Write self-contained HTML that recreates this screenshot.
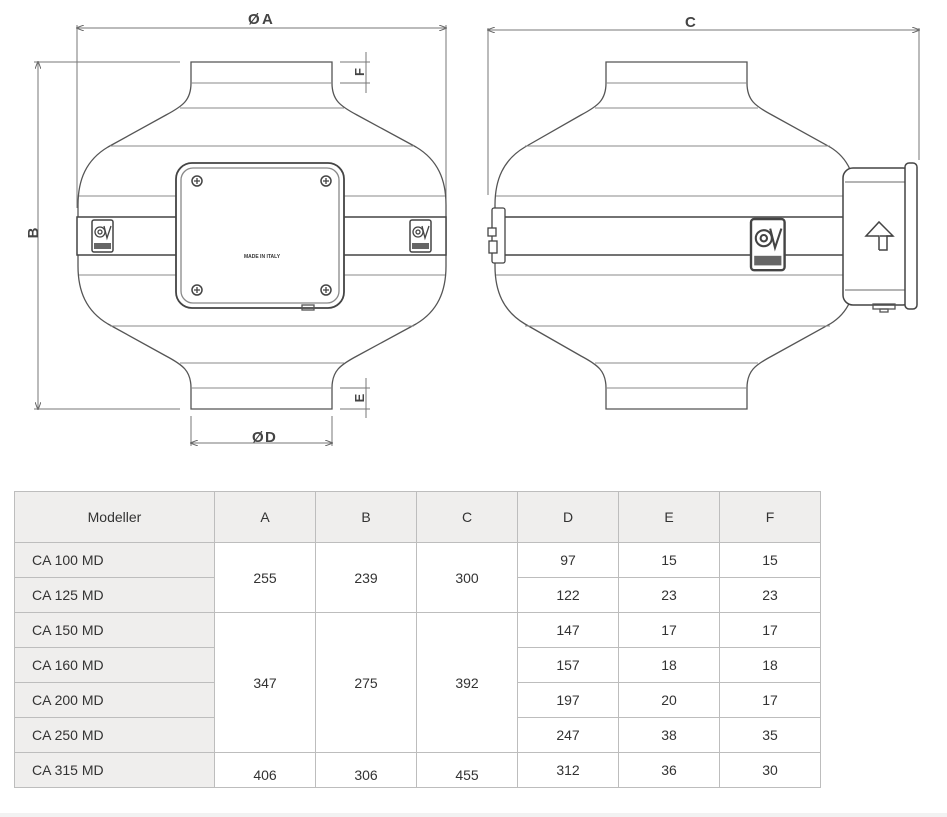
<!DOCTYPE html>
<html><head><meta charset="utf-8"><style>
html,body{margin:0;padding:0;background:#fff;width:947px;height:817px;overflow:hidden;font-family:"Liberation Sans",sans-serif}
svg{position:absolute;left:0;top:0}
table{position:absolute;left:14px;top:491px;border-collapse:collapse;font-family:"Liberation Sans Narrow","Liberation Sans",sans-serif;font-size:14px;color:#333}
td{border:1px solid #bdbdbd;text-align:center;padding:0;height:34px;width:100px}
td.m{background:#efeeed;text-align:left;padding-left:17px;width:182px}
tr.h td{background:#efeeed;height:50px}
tr.h td.m{text-align:center;padding-left:0}
.band{position:absolute;left:0;top:813px;width:947px;height:4px;background:#f2f2f2}
</style></head><body>
<svg width="947" height="490" viewBox="0 0 947 490" fill="none" stroke="#555" stroke-width="1.3">
<defs>
<marker id="ar" markerWidth="8" markerHeight="6" refX="7" refY="3" orient="auto-start-reverse"><path d="M0,0 L8,3 L0,6" fill="none" stroke="#666" stroke-width="1"/></marker>
<g id="logo"><rect x="0" y="0" width="21" height="32" rx="2" fill="#fff" stroke="#444" stroke-width="1.5"/><circle cx="8" cy="12" r="5" stroke="#444"/><circle cx="8" cy="12" r="2" stroke="#444"/><path d="M12,6 L15,18 L19,6" stroke="#444"/><rect x="2" y="23" width="17" height="6" fill="#666" stroke="none"/></g>
<g id="screw"><circle r="5" stroke="#444" stroke-width="1.5"/><path d="M-3,0H3M0,-3V3" stroke="#444"/></g>
</defs>
<g stroke="#777" stroke-width="1">
<line x1="77" y1="28" x2="446" y2="28" marker-start="url(#ar)" marker-end="url(#ar)"/>
<line x1="77" y1="25" x2="77" y2="208"/><line x1="446" y1="25" x2="446" y2="205"/>
<line x1="38" y1="62" x2="38" y2="409" marker-start="url(#ar)" marker-end="url(#ar)"/>
<line x1="34" y1="62" x2="180" y2="62"/><line x1="34" y1="409" x2="180" y2="409"/>
<line x1="366" y1="52" x2="366" y2="93"/><line x1="340" y1="62" x2="370" y2="62"/><line x1="340" y1="83" x2="370" y2="83"/>
<line x1="366" y1="378" x2="366" y2="418"/><line x1="340" y1="388" x2="370" y2="388"/><line x1="340" y1="409" x2="370" y2="409"/>
<line x1="191" y1="416" x2="191" y2="446"/><line x1="332" y1="416" x2="332" y2="446"/>
<line x1="191" y1="443" x2="332" y2="443" marker-start="url(#ar)" marker-end="url(#ar)"/>
<line x1="488" y1="30" x2="919" y2="30" marker-start="url(#ar)" marker-end="url(#ar)"/>
<line x1="488" y1="28" x2="488" y2="195"/><line x1="919" y1="28" x2="919" y2="160"/>
</g>
<g fill="#444" stroke="none" font-weight="bold" font-size="15">
<text x="248" y="24">Ø</text><text x="262" y="24">A</text>
<text x="685" y="27">C</text>
<text x="252" y="442">Ø</text><text x="265" y="442">D</text>
<text transform="translate(38,233) rotate(-90)" text-anchor="middle">B</text>
<text transform="translate(364,72) rotate(-90)" text-anchor="middle" font-size="13">F</text>
<text transform="translate(364,398) rotate(-90)" text-anchor="middle" font-size="13">E</text>
</g>
<path d="M191,62 H332 V83 C332,100 340,106 357,115 L416,147 C438,160 446,180 446,205 V266 C446,291 438,311 416,324 L357,356 C340,365 332,371 332,388 V409 H191 V388 C191,371 183,365 166,356 L108,324 C86,311 78,291 78,266 V205 C78,180 86,160 108,147 L166,115 C183,106 191,100 191,83 Z" fill="#fff"/>
<g stroke="#888" stroke-width="1">
<line x1="191" y1="83" x2="332" y2="83"/><line x1="180" y1="108" x2="344" y2="108"/><line x1="110" y1="146" x2="414" y2="146"/><line x1="79" y1="196" x2="445" y2="196"/>
<line x1="79" y1="275" x2="445" y2="275"/><line x1="110" y1="326" x2="414" y2="326"/><line x1="180" y1="363" x2="344" y2="363"/><line x1="191" y1="388" x2="332" y2="388"/>
</g>
<rect x="77" y="217" width="369" height="38" fill="#fff" stroke="#444" stroke-width="1.5"/>
<use href="#logo" x="92" y="220"/><use href="#logo" x="410" y="220"/>
<rect x="176" y="163" width="168" height="145" rx="16" fill="#fff" stroke="#444" stroke-width="1.8"/>
<rect x="181" y="168" width="158" height="135" rx="12" stroke="#888"/>
<rect x="302" y="305" width="12" height="5" stroke="#555"/>
<use href="#screw" x="197" y="181"/><use href="#screw" x="326" y="181"/><use href="#screw" x="197" y="290"/><use href="#screw" x="326" y="290"/>
<text x="262" y="258" font-size="5" fill="#333" stroke="none" text-anchor="middle" font-weight="bold">MADE IN ITALY</text>
<path d="M606,62 H747 V83 C747,100 755,106 772,115 L830,147 C848,158 856,175 856,205 V266 C856,296 848,313 830,324 L772,356 C755,365 747,371 747,388 V409 H606 V388 C606,371 598,365 581,356 L525,324 C503,311 495,291 495,266 V205 C495,180 503,160 525,147 L581,115 C598,106 606,100 606,83 Z" fill="#fff"/>
<g stroke="#888" stroke-width="1">
<line x1="606" y1="83" x2="747" y2="83"/><line x1="595" y1="108" x2="758" y2="108"/><line x1="525" y1="146" x2="830" y2="146"/><line x1="496" y1="196" x2="850" y2="196"/>
<line x1="496" y1="275" x2="850" y2="275"/><line x1="525" y1="326" x2="830" y2="326"/><line x1="595" y1="363" x2="758" y2="363"/><line x1="606" y1="388" x2="747" y2="388"/>
</g>
<rect x="493" y="217" width="352" height="38" fill="#fff" stroke="#444" stroke-width="1.5"/>
<rect x="492" y="208" width="13" height="55" rx="2" fill="#fff" stroke="#444"/>
<rect x="488" y="228" width="8" height="8" fill="#fff" stroke="#444"/><rect x="489" y="241" width="8" height="12" fill="#fff" stroke="#444"/>
<g transform="translate(751,219) scale(1.6)"><use href="#logo" x="0" y="0"/></g>
<rect x="843" y="168" width="70" height="137" rx="10" fill="#fff" stroke="#444" stroke-width="1.5"/>
<line x1="845" y1="182" x2="905" y2="182" stroke="#888"/><line x1="845" y1="290" x2="905" y2="290" stroke="#888"/>
<rect x="905" y="163" width="12" height="146" rx="4" fill="#fff" stroke="#444" stroke-width="1.5"/>
<rect x="873" y="304" width="22" height="5" stroke="#555"/><rect x="880" y="309" width="8" height="3" stroke="#555"/>
<path d="M879,250 V236 H866 L879,222 L893,236 H880" stroke="#444" stroke-width="1.5"/>
<path d="M879,250 H887 V236 H893" stroke="#444" stroke-width="1.5"/>
</svg>
<table>
<tr class="h"><td class="m">Modeller</td><td>A</td><td>B</td><td>C</td><td>D</td><td>E</td><td>F</td></tr>
<tr><td class="m">CA 100 MD</td><td rowspan="2">255</td><td rowspan="2">239</td><td rowspan="2">300</td><td>97</td><td>15</td><td>15</td></tr>
<tr><td class="m">CA 125 MD</td><td>122</td><td>23</td><td>23</td></tr>
<tr><td class="m">CA 150 MD</td><td rowspan="4">347</td><td rowspan="4">275</td><td rowspan="4">392</td><td>147</td><td>17</td><td>17</td></tr>
<tr><td class="m">CA 160 MD</td><td>157</td><td>18</td><td>18</td></tr>
<tr><td class="m">CA 200 MD</td><td>197</td><td>20</td><td>17</td></tr>
<tr><td class="m">CA 250 MD</td><td>247</td><td>38</td><td>35</td></tr>
<tr><td class="m">CA 315 MD</td><td style="padding-top:10px;height:24px">406</td><td style="padding-top:10px;height:24px">306</td><td style="padding-top:10px;height:24px">455</td><td>312</td><td>36</td><td>30</td></tr>
</table>
<div class="band"></div>
</body></html>
